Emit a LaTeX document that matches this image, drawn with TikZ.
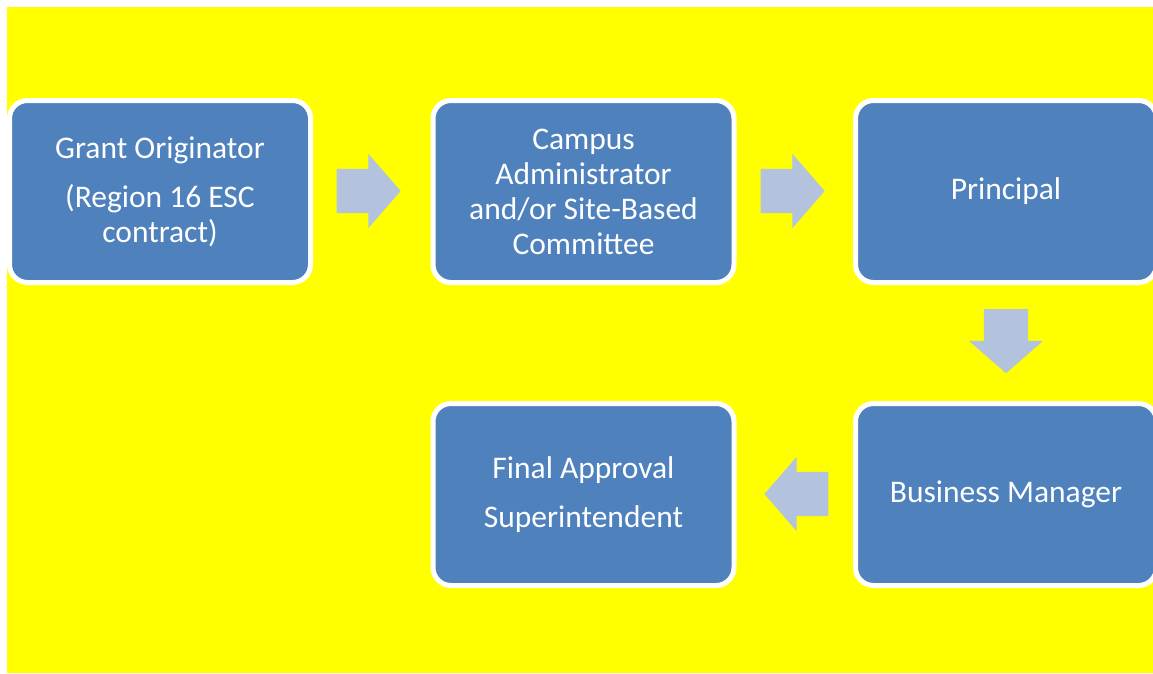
\documentclass[tikz,border=0pt]{standalone}
\usepackage{fontspec}
\setmainfont{Carlito}
\usetikzlibrary{shapes.arrows}

\definecolor{stageblue}{HTML}{4F81BD}
\definecolor{flowblue}{HTML}{B3C3DD}
\definecolor{pageyellow}{RGB}{255,255,0}

\begin{document}
\begin{tikzpicture}[x=1pt,y=-1pt,
    stage/.style={rectangle,rounded corners=18pt,draw=white,line width=5pt,fill=stageblue,
      text=white,minimum width=301pt,minimum height=182pt,align=center,
      font=\fontsize{31.5}{35}\selectfont},
    flow/.style={single arrow,fill=flowblue,inner xsep=0pt,inner ysep=22pt,
      single arrow head extend=15pt,minimum height=64pt,single arrow tip angle=98}]
      \useasboundingbox (0,0) rectangle (1153,673);
      \clip (0,0) rectangle (1153,673);
      \fill[pageyellow] (7,7) rectangle (1153,673);

      \node[stage] (grant)     at ( 160,191.5) {Grant Originator\\[14pt](Region 16 ESC\\contract)};
      \node[stage] (campus)    at ( 583.5,191.5) {Campus\\Administrator\\and/or Site-Based\\Committee};
      \node[stage] (principal) at (1006,191.5) {Principal};
      \node[stage] (business)  at (1006,494.5) {Business Manager};
      \node[stage] (final)     at ( 583.5,494.5) {Final Approval\\[14pt]Superintendent};

      \node[flow]             (grant-campus)       at ( 359,191) {};
      \node[flow]             (campus-principal)   at ( 783,191) {};
      \node[flow,rotate=-90]  (principal-business) at (1006,331.5) {};
      \node[flow,rotate=180]  (business-final)     at ( 806,494) {};
    \end{tikzpicture}
\end{document}
